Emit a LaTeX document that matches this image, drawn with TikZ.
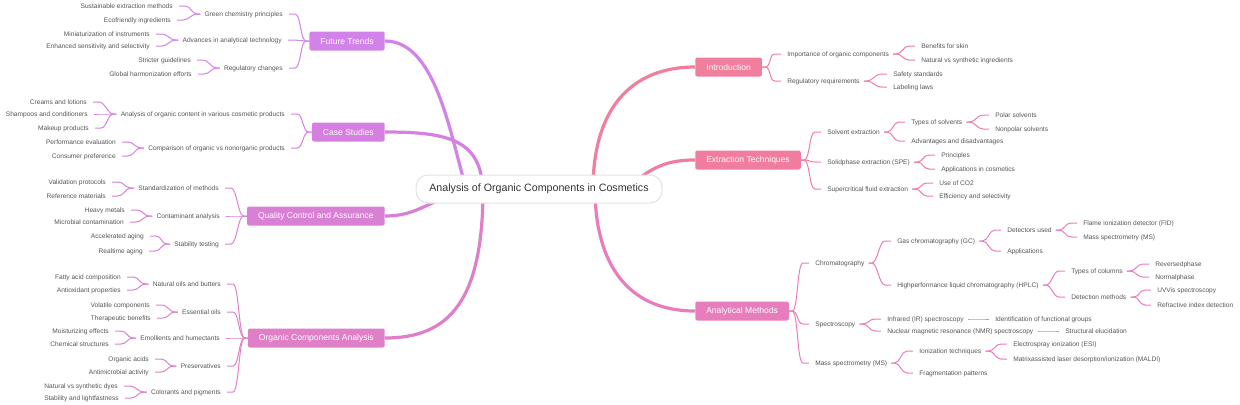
\documentclass[tikz,border=0pt]{standalone}
\usepackage{fontspec}
\setmainfont{Liberation Sans}
\usetikzlibrary{calc,backgrounds}

\definecolor{ftcol}{HTML}{D183EA}
\definecolor{cscol}{HTML}{D580E0}
\definecolor{qccol}{HTML}{D880D4}
\definecolor{occol}{HTML}{DE7FC8}
\definecolor{incol}{HTML}{F27E9E}
\definecolor{excol}{HTML}{F07CA0}
\definecolor{amcol}{HTML}{E87DBE}
\definecolor{leaftext}{HTML}{555555}
\definecolor{roottext}{HTML}{333333}
\definecolor{rootline}{HTML}{E2E2E2}

\tikzset{
  root/.style={draw=rootline, line width=0.75pt, fill=white, rounded corners=9pt, minimum width=184.5pt, minimum height=21pt, text=roottext, font=\fontsize{8}{10}\selectfont},
  topic/.style={fill=#1, rounded corners=1.5pt, text=white, minimum height=14.25pt, inner xsep=8.25pt, font=\fontsize{6.4}{8}\selectfont},
  ltopic/.style={topic=#1, anchor=east},
  rtopic/.style={topic=#1, anchor=west},
  leaf/.style={text=leaftext, inner xsep=3pt, inner ysep=1pt, text height=5.4pt, text depth=1.1pt, font=\fontsize{4.95}{6}\selectfont},
  lleaf/.style={leaf, anchor=east},
  rleaf/.style={leaf, anchor=west},
  branch/.style={draw=#1, line width=2.4pt},
  twig/.style={draw=#1, line width=0.75pt}
}

\begin{document}
\begin{tikzpicture}[x=0.75pt, y=-0.75pt]
		\useasboundingbox (0,0) rectangle (1240,404);
		\node[root] (root) at (539,189) {Analysis of Organic Components in Cosmetics};

		% left half
		\node[ltopic=ftcol] (ft) at (385,41) {Future Trends};
		\node[lleaf] (gcp) at (287,14) {Green chemistry principles};
		\node[lleaf] (aat) at (286,40) {Advances in analytical technology};
		\node[lleaf] (rgc) at (287,68) {Regulatory changes};
		\node[lleaf] (sem) at (177,6) {Sustainable extraction methods};
		\node[lleaf] (efi) at (175,20) {Ecofriendly ingredients};
		\node[lleaf] (moi) at (154,34) {Miniaturization of instruments};
		\node[lleaf] (ess) at (154,46) {Enhanced sensitivity and selectivity};
		\node[lleaf] (sgl) at (195,60) {Stricter guidelines};
		\node[lleaf] (ghe) at (196,74) {Global harmonization efforts};

		\node[ltopic=cscol] (cs) at (385,132) {Case Studies};
		\node[lleaf] (aoc) at (289,114) {Analysis of organic content in various cosmetic products};
		\node[lleaf] (cmp) at (289,148) {Comparison of organic vs nonorganic products};
		\node[lleaf] (crl) at (91,102) {Creams and lotions};
		\node[lleaf] (shc) at (92,114) {Shampoos and conditioners};
		\node[lleaf] (mkp) at (93,128) {Makeup products};
		\node[lleaf] (pev) at (120,142) {Performance evaluation};
		\node[lleaf] (cpr) at (120,156) {Consumer preference};

		\node[ltopic=qccol] (qc) at (385,216) {Quality Control and Assurance};
		\node[lleaf] (std) at (223,188) {Standardization of methods};
		\node[lleaf] (cta) at (224,216) {Contaminant analysis};
		\node[lleaf] (stt) at (223,244) {Stability testing};
		\node[lleaf] (vpr) at (110,182) {Validation protocols};
		\node[lleaf] (rfm) at (110,196) {Reference materials};
		\node[lleaf] (hvm) at (129,210) {Heavy metals};
		\node[lleaf] (mbc) at (128,222) {Microbial contamination};
		\node[lleaf] (acc) at (148,236) {Accelerated aging};
		\node[lleaf] (rta) at (147,251) {Realtime aging};

		\node[ltopic=occol] (oca) at (385,338) {Organic Components Analysis};
		\node[lleaf] (nob) at (225,284) {Natural oils and butters};
		\node[lleaf] (eso) at (225,312) {Essential oils};
		\node[lleaf] (emh) at (224,338) {Emollients and humectants};
		\node[lleaf] (prs) at (225,366) {Preservatives};
		\node[lleaf] (clp) at (225,392) {Colorants and pigments};
		\node[lleaf] (fac) at (125,277) {Fatty acid composition};
		\node[lleaf] (aop) at (125,290) {Antioxidant properties};
		\node[lleaf] (vcp) at (154,305) {Volatile components};
		\node[lleaf] (thb) at (155,318) {Therapeutic benefits};
		\node[lleaf] (mse) at (113,331) {Moisturizing effects};
		\node[lleaf] (chs) at (113,344) {Chemical structures};
		\node[lleaf] (oac) at (153,359) {Organic acids};
		\node[lleaf] (ama) at (153,372) {Antimicrobial activity};
		\node[lleaf] (nsd) at (122,386) {Natural vs synthetic dyes};
		\node[lleaf] (slf) at (123,398) {Stability and lightfastness};

		% right half
		\node[rtopic=incol] (intro) at (695,67) {Introduction};
		\node[rleaf] (ioc) at (783,54) {Importance of organic components};
		\node[rleaf] (rrq) at (783,81) {Regulatory requirements};
		\node[rleaf] (bfs) at (917,46) {Benefits for skin};
		\node[rleaf] (nvs) at (917,60) {Natural vs synthetic ingredients};
		\node[rleaf] (sfs) at (889,74) {Safety standards};
		\node[rleaf] (lbl) at (889,87) {Labeling laws};

		\node[rtopic=excol] (ext) at (695,160) {Extraction Techniques};
		\node[rleaf] (sve) at (823,132) {Solvent extraction};
		\node[rleaf] (spe) at (823,162) {Solidphase extraction (SPE)};
		\node[rleaf] (sfe) at (823,189) {Supercritical fluid extraction};
		\node[rleaf] (tos) at (907,122) {Types of solvents};
		\node[rleaf] (aad) at (907,141) {Advantages and disadvantages};
		\node[rleaf] (pol) at (991,115) {Polar solvents};
		\node[rleaf] (npl) at (991,129) {Nonpolar solvents};
		\node[rleaf] (prc) at (937,155) {Principles};
		\node[rleaf] (aic) at (937,169) {Applications in cosmetics};
		\node[rleaf] (uco) at (935,183) {Use of CO2};
		\node[rleaf] (efs) at (935,196) {Efficiency and selectivity};

		\node[rtopic=amcol] (am) at (695,311) {Analytical Methods};
		\node[rleaf] (chr) at (811,263) {Chromatography};
		\node[rleaf] (spc) at (811,324) {Spectroscopy};
		\node[rleaf] (msp) at (811,363) {Mass spectrometry (MS)};
		\node[rleaf] (gc) at (893,241) {Gas chromatography (GC)};
		\node[rleaf] (hplc) at (893,285) {Highperformance liquid chromatography (HPLC)};
		\node[rleaf] (dtu) at (1003,230) {Detectors used};
		\node[rleaf] (app) at (1003,251) {Applications};
		\node[rleaf] (fid) at (1079,223) {Flame ionization detector (FID)};
		\node[rleaf] (gms) at (1079,237) {Mass spectrometry (MS)};
		\node[rleaf] (toc) at (1067,271) {Types of columns};
		\node[rleaf] (dtm) at (1067,297) {Detection methods};
		\node[rleaf] (rvp) at (1151,264) {Reversedphase};
		\node[rleaf] (nmp) at (1151,277) {Normalphase};
		\node[rleaf] (uvv) at (1153,290) {UVVis spectroscopy};
		\node[rleaf] (rid) at (1153,305) {Refractive index detection};
		\node[rleaf] (irs) at (883,319) {Infrared (IR) spectroscopy};
		\node[rleaf] (nmr) at (883,331) {Nuclear magnetic resonance (NMR) spectroscopy};
		\node[rleaf] (ifg) at (991,319) {Identification of functional groups};
		\node[rleaf] (sel) at (1061,331) {Structural elucidation};
		\node[rleaf] (ion) at (915,351) {Ionization techniques};
		\node[rleaf] (frp) at (915,373) {Fragmentation patterns};
		\node[rleaf] (esi) at (1009,344) {Electrospray ionization (ESI)};
		\node[rleaf] (mal) at (1009,359) {Matrixassisted laser desorption/ionization (MALDI)};

		% thick branches, hidden under the root box
		\begin{scope}[on background layer]
		\draw[branch=ftcol] (ft.east) .. controls (440,41) and (452,150) .. ($(root)+(-69,11)$);
		\draw[branch=cscol] (cs.east) .. controls (450,132) and (483,140) .. ($(root)+(-56,6)$);
		\draw[branch=qccol] (qc.east) .. controls (410,216) and (420,208) .. ($(root)+(-89,6)$);
		\draw[branch=occol] (oca.east) .. controls (450,338) and (483,300) .. ($(root)+(-56,0)$);
		\draw[branch=incol] (intro.west) .. controls (630,67) and (593,110) .. ($(root)+(54,0)$);
		\draw[branch=excol] (ext.west) .. controls (665,160) and (650,168) .. ($(root)+(86,1)$);
		\draw[branch=amcol] (am.west) .. controls (625,311) and (595,260) .. ($(root)+(56,0)$);
		\end{scope}

		% thin links
		\foreach \col/\p/\c in {ftcol/ft/gcp, ftcol/ft/aat, ftcol/ft/rgc, ftcol/gcp/sem, ftcol/gcp/efi, ftcol/aat/moi, ftcol/aat/ess, ftcol/rgc/sgl, ftcol/rgc/ghe,
			cscol/cs/aoc, cscol/cs/cmp, cscol/aoc/crl, cscol/aoc/shc, cscol/aoc/mkp, cscol/cmp/pev, cscol/cmp/cpr,
			qccol/qc/std, qccol/qc/cta, qccol/qc/stt, qccol/std/vpr, qccol/std/rfm, qccol/cta/hvm, qccol/cta/mbc, qccol/stt/acc, qccol/stt/rta,
			occol/oca/nob, occol/oca/eso, occol/oca/emh, occol/oca/prs, occol/oca/clp, occol/nob/fac, occol/nob/aop, occol/eso/vcp, occol/eso/thb,
			occol/emh/mse, occol/emh/chs, occol/prs/oac, occol/prs/ama, occol/clp/nsd, occol/clp/slf}
			\draw[twig=\col] (\p.west) -- ++(-3,0) .. controls +(-6,0) and +(6,0) .. ([xshift=6pt]\c.east) -- ([xshift=1.5pt]\c.east);
		\foreach \col/\p/\c in {incol/intro/ioc, incol/intro/rrq, incol/ioc/bfs, incol/ioc/nvs, incol/rrq/sfs, incol/rrq/lbl,
			excol/ext/sve, excol/ext/spe, excol/ext/sfe, excol/sve/tos, excol/sve/aad, excol/tos/pol, excol/tos/npl, excol/spe/prc, excol/spe/aic, excol/sfe/uco, excol/sfe/efs,
			amcol/am/chr, amcol/am/spc, amcol/am/msp, amcol/chr/gc, amcol/chr/hplc, amcol/gc/dtu, amcol/gc/app, amcol/dtu/fid, amcol/dtu/gms,
			amcol/hplc/toc, amcol/hplc/dtm, amcol/toc/rvp, amcol/toc/nmp, amcol/dtm/uvv, amcol/dtm/rid,
			amcol/spc/irs, amcol/spc/nmr, amcol/irs/ifg, amcol/nmr/sel, amcol/msp/ion, amcol/msp/frp, amcol/ion/esi, amcol/ion/mal}
			\draw[twig=\col] (\p.east) -- ++(3,0) .. controls +(6,0) and +(-6,0) .. ([xshift=-6pt]\c.west) -- ([xshift=-1.5pt]\c.west);
	\end{tikzpicture}
\end{document}
